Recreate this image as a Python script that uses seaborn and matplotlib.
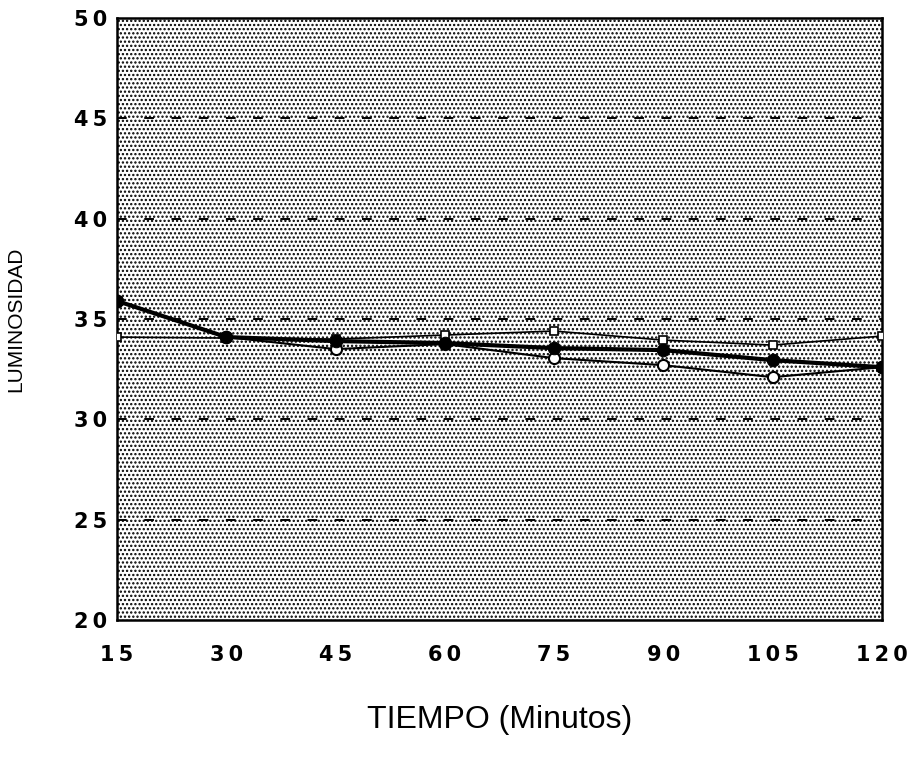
import matplotlib
matplotlib.use("Agg")
import matplotlib.pyplot as plt
import seaborn as sns
import pandas as pd

tiempo = [15, 30, 45, 60, 75, 90, 105, 120]
serie_a = [35.9, 34.1, 33.9, 33.8, 33.55, 33.45, 32.95, 32.6]   # filled circles, thick
serie_b = [34.1, 34.05, 34.0, 34.2, 34.4, 33.95, 33.7, 34.15]  # open squares
serie_c = [35.9, 34.1, 33.5, 33.75, 33.05, 32.7, 32.1, 32.6]   # open circles
y_ticks = [20, 25, 30, 35, 40, 45, 50]
x_ticks = [15, 30, 45, 60, 75, 90, 105, 120]

sns.set_theme(style="white")
plt.rcParams['font.family'] = ['DejaVu Sans']
plt.rcParams['hatch.linewidth'] = 1.1
plt.rcParams['hatch.color'] = 'black'

fig = plt.figure(figsize=(9.1, 7.65), dpi=100)
ax = fig.add_axes([0.1286, 0.1895, 0.8404, 0.787])

ax.patch.set_facecolor('white')
ax.patch.set_hatch('....')
ax.patch.set_edgecolor('black')

for y in [25, 30, 35, 40, 45]:
    ax.axhline(y, color='black', lw=1.4, dashes=(5, 9), zorder=1)

df_b = pd.DataFrame({'t': tiempo, 'v': serie_b})
df_c = pd.DataFrame({'t': tiempo, 'v': serie_c})
df_a = pd.DataFrame({'t': tiempo, 'v': serie_a})

sns.lineplot(data=df_b, x='t', y='v', ax=ax, color='black', lw=1.2,
             marker='s', markersize=6, markerfacecolor='white',
             markeredgecolor='black', markeredgewidth=1.2, zorder=3)
sns.lineplot(data=df_c, x='t', y='v', ax=ax, color='black', lw=1.5,
             marker='o', markersize=8, markerfacecolor='white',
             markeredgecolor='black', markeredgewidth=1.5, zorder=3)
sns.lineplot(data=df_a, x='t', y='v', ax=ax, color='black', lw=3,
             marker='o', markersize=9, markerfacecolor='black',
             markeredgecolor='black', zorder=4)

thin = '\u2009'
ax.set_xlim(15, 120)
ax.set_ylim(20, 50)
ax.set_xticks(x_ticks)
ax.set_yticks(y_ticks)
ax.set_xticklabels([thin.join(str(v)) for v in x_ticks], fontsize=15,
                   fontweight='bold', color='black')
ax.set_yticklabels([thin.join(str(v)) for v in y_ticks], fontsize=15,
                   fontweight='bold', color='black')
ax.tick_params(axis='x', length=0, pad=18)
ax.tick_params(axis='y', length=0, pad=7)

for s in ax.spines.values():
    s.set_visible(True)
    s.set_color('black')
    s.set_linewidth(1.8)

ax.set_xlabel('TIEMPO (Minutos)', fontsize=23, family='Liberation Sans',
              color='black', labelpad=29)
ax.set_ylabel('LUMINOSIDAD', fontsize=15, family='Liberation Sans',
              color='black', labelpad=35)

fig.savefig('out.png', dpi=100)
